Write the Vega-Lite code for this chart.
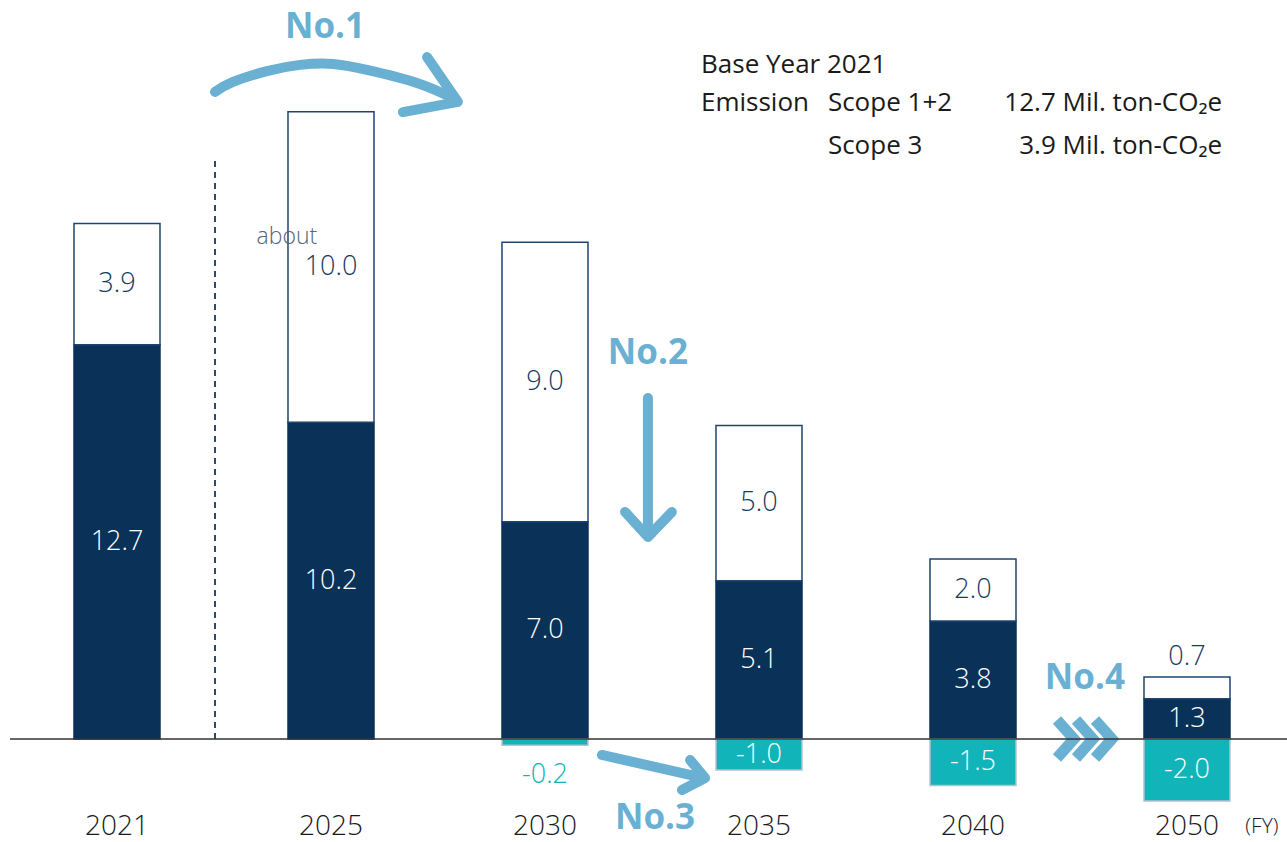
{
  "$schema": "https://vega.github.io/schema/vega-lite/v6.json",
  "width": 1287,
  "height": 842,
  "autosize": {"type": "none"},
  "padding": 0,
  "background": "white",
  "config": {
    "view": {"stroke": null},
    "axis": {"disable": true},
    "legend": {"disable": true},
    "scale": {"continuousPadding": 0},
    "text": {"font": "Open Sans"},
    "locale": {"number": {"decimal": ".", "thousands": ",", "grouping": [3], "currency": ["$", ""], "minus": "-"}}
  },
  "datasets": {
    "emissions": [
      {"year": "2021", "pos": 0, "cat": "Scope 1+2", "value": 12.7},
      {"year": "2021", "pos": 0, "cat": "Scope 3", "value": 3.9},
      {"year": "2025", "pos": 1, "cat": "Scope 1+2", "value": 10.2},
      {"year": "2025", "pos": 1, "cat": "Scope 3", "value": 10.0},
      {"year": "2030", "pos": 2, "cat": "Scope 1+2", "value": 7.0},
      {"year": "2030", "pos": 2, "cat": "Scope 3", "value": 9.0},
      {"year": "2030", "pos": 2, "cat": "Removal", "value": -0.2},
      {"year": "2035", "pos": 3, "cat": "Scope 1+2", "value": 5.1},
      {"year": "2035", "pos": 3, "cat": "Scope 3", "value": 5.0},
      {"year": "2035", "pos": 3, "cat": "Removal", "value": -1.0},
      {"year": "2040", "pos": 4, "cat": "Scope 1+2", "value": 3.8},
      {"year": "2040", "pos": 4, "cat": "Scope 3", "value": 2.0},
      {"year": "2040", "pos": 4, "cat": "Removal", "value": -1.5},
      {"year": "2050", "pos": 5, "cat": "Scope 1+2", "value": 1.3},
      {"year": "2050", "pos": 5, "cat": "Scope 3", "value": 0.7},
      {"year": "2050", "pos": 5, "cat": "Removal", "value": -2.0}
    ],
    "arc": [
      {"id": "a1", "i": 0, "x": 0.458, "y": 20.84},
      {"id": "a1", "i": 1, "x": 0.542, "y": 21.16},
      {"id": "a1", "i": 2, "x": 0.701, "y": 21.51},
      {"id": "a1", "i": 3, "x": 0.855, "y": 21.71},
      {"id": "a1", "i": 4, "x": 1.009, "y": 21.74},
      {"id": "a1", "i": 5, "x": 1.168, "y": 21.55},
      {"id": "a1", "i": 6, "x": 1.402, "y": 21.13},
      {"id": "a1", "i": 7, "x": 1.579, "y": 20.61}
    ],
    "strokes": [
      {"id": "h1", "i": 0, "x": 1.449, "y": 21.96},
      {"id": "h1", "i": 1, "x": 1.593, "y": 20.52},
      {"id": "h1", "i": 2, "x": 1.336, "y": 20.19},
      {"id": "s2", "i": 0, "x": 2.481, "y": 10.98},
      {"id": "s2", "i": 1, "x": 2.481, "y": 6.667},
      {"id": "h2", "i": 0, "x": 2.374, "y": 7.311},
      {"id": "h2", "i": 1, "x": 2.481, "y": 6.506},
      {"id": "h2", "i": 2, "x": 2.593, "y": 7.311},
      {"id": "s3", "i": 0, "x": 2.266, "y": -0.515},
      {"id": "s3", "i": 1, "x": 2.724, "y": -1.224},
      {"id": "h3", "i": 0, "x": 2.678, "y": -0.676},
      {"id": "h3", "i": 1, "x": 2.748, "y": -1.256},
      {"id": "h3", "i": 2, "x": 2.640, "y": -1.643}
    ],
    "chevrons": [
      {"id": "c1", "i": 0, "x": 4.3925, "y": 0.612},
      {"id": "c1", "i": 1, "x": 4.472, "y": 0},
      {"id": "c1", "i": 2, "x": 4.3925, "y": -0.612},
      {"id": "c2", "i": 0, "x": 4.4813, "y": 0.612},
      {"id": "c2", "i": 1, "x": 4.5607, "y": 0},
      {"id": "c2", "i": 2, "x": 4.4813, "y": -0.612},
      {"id": "c3", "i": 0, "x": 4.5701, "y": 0.612},
      {"id": "c3", "i": 1, "x": 4.6495, "y": 0},
      {"id": "c3", "i": 2, "x": 4.5701, "y": -0.612}
    ]
  },
  "layer": [
    {
      "data": {"values": [{"x": 0.458, "y": 0, "y2": 18.65}]},
      "mark": {"type": "rule", "color": "#2b4c72", "strokeWidth": 2, "strokeDash": [6, 5]},
      "encoding": {
        "x": {"field": "x", "type": "quantitative", "scale": {"domain": [-0.5467, 5.4673], "nice": false, "zero": false, "padding": 0}},
        "y": {"field": "y", "type": "quantitative", "scale": {"domain": [-3.317, 23.8], "nice": false, "zero": false, "padding": 0}},
        "y2": {"field": "y2"}
      }
    },
    {
      "data": {"name": "emissions"},
      "transform": [
        {"stack": "value", "groupby": ["year"], "sort": [{"field": "cat", "order": "ascending"}], "as": ["v0", "v1"]}
      ],
      "mark": {"type": "bar", "width": 86, "strokeWidth": 1.5},
      "encoding": {
        "x": {"field": "pos", "type": "quantitative", "scale": {"domain": [-0.5467, 5.4673], "nice": false, "zero": false, "padding": 0}},
        "y": {"field": "v0", "type": "quantitative", "scale": {"domain": [-3.317, 23.8], "nice": false, "zero": false, "padding": 0}},
        "y2": {"field": "v1"},
        "fill": {"field": "cat", "type": "nominal", "scale": {"domain": ["Scope 1+2", "Scope 3", "Removal"], "range": ["#0a3158", "#ffffff", "#11b4b9"]}},
        "stroke": {"field": "cat", "type": "nominal", "scale": {"domain": ["Scope 1+2", "Scope 3", "Removal"], "range": ["#0a3158", "#1f446e", "#b6c0d2"]}}
      }
    },
    {
      "data": {"name": "emissions"},
      "transform": [
        {"stack": "value", "groupby": ["year"], "sort": [{"field": "cat", "order": "ascending"}], "as": ["v0", "v1"]},
        {"calculate": "(datum.v0 + datum.v1) / 2", "as": "mid"},
        {"filter": "abs(datum.value) >= 1"}
      ],
      "mark": {"type": "text", "fontSize": 27, "fontWeight": 300, "baseline": "middle", "align": "center"},
      "encoding": {
        "x": {"field": "pos", "type": "quantitative", "scale": {"domain": [-0.5467, 5.4673], "nice": false, "zero": false, "padding": 0}},
        "y": {"field": "mid", "type": "quantitative", "scale": {"domain": [-3.317, 23.8], "nice": false, "zero": false, "padding": 0}},
        "text": {"field": "value", "type": "quantitative", "format": ".1f"},
        "color": {"field": "cat", "type": "nominal", "scale": {"domain": ["Scope 1+2", "Scope 3", "Removal"], "range": ["#ffffff", "#163a62", "#ffffff"]}}
      }
    },
    {
      "data": {"name": "emissions"},
      "transform": [
        {"stack": "value", "groupby": ["year"], "sort": [{"field": "cat", "order": "ascending"}], "as": ["v0", "v1"]},
        {"filter": "datum.value > 0 && datum.value < 1"}
      ],
      "mark": {"type": "text", "fontSize": 27, "fontWeight": 300, "baseline": "middle", "align": "center", "dy": -20, "color": "#163a62"},
      "encoding": {
        "x": {"field": "pos", "type": "quantitative", "scale": {"domain": [-0.5467, 5.4673], "nice": false, "zero": false, "padding": 0}},
        "y": {"field": "v1", "type": "quantitative", "scale": {"domain": [-3.317, 23.8], "nice": false, "zero": false, "padding": 0}},
        "text": {"field": "value", "type": "quantitative", "format": ".1f"}
      }
    },
    {
      "data": {"name": "emissions"},
      "transform": [
        {"stack": "value", "groupby": ["year"], "sort": [{"field": "cat", "order": "ascending"}], "as": ["v0", "v1"]},
        {"filter": "datum.value < 0 && datum.value > -1"}
      ],
      "mark": {"type": "text", "fontSize": 27, "fontWeight": 300, "baseline": "middle", "align": "center", "dy": 30, "color": "#13b3b8"},
      "encoding": {
        "x": {"field": "pos", "type": "quantitative", "scale": {"domain": [-0.5467, 5.4673], "nice": false, "zero": false, "padding": 0}},
        "y": {"field": "v1", "type": "quantitative", "scale": {"domain": [-3.317, 23.8], "nice": false, "zero": false, "padding": 0}},
        "text": {"field": "value", "type": "quantitative", "format": ".1f"}
      }
    },
    {
      "data": {"name": "emissions"},
      "transform": [{"filter": "datum.cat == 'Scope 1+2'"}],
      "mark": {"type": "text", "fontSize": 28, "fontWeight": 300, "baseline": "middle", "align": "center", "color": "#1a1a1a"},
      "encoding": {
        "x": {"field": "pos", "type": "quantitative", "scale": {"domain": [-0.5467, 5.4673], "nice": false, "zero": false, "padding": 0}},
        "y": {"datum": -2.84, "type": "quantitative", "scale": {"domain": [-3.317, 23.8], "nice": false, "zero": false, "padding": 0}},
        "text": {"field": "year", "type": "nominal"}
      }
    },
    {
      "data": {"name": "arc"},
      "mark": {"type": "line", "color": "#6ab0d3", "strokeWidth": 10, "strokeCap": "round", "interpolate": "natural"},
      "encoding": {
        "x": {"field": "x", "type": "quantitative", "scale": {"domain": [-0.5467, 5.4673], "nice": false, "zero": false, "padding": 0}},
        "y": {"field": "y", "type": "quantitative", "scale": {"domain": [-3.317, 23.8], "nice": false, "zero": false, "padding": 0}},
        "order": {"field": "i", "type": "quantitative"},
        "detail": {"field": "id", "type": "nominal"}
      }
    },
    {
      "data": {"name": "strokes"},
      "mark": {"type": "line", "color": "#6ab0d3", "strokeWidth": 10, "strokeCap": "round", "strokeJoin": "round"},
      "encoding": {
        "x": {"field": "x", "type": "quantitative", "scale": {"domain": [-0.5467, 5.4673], "nice": false, "zero": false, "padding": 0}},
        "y": {"field": "y", "type": "quantitative", "scale": {"domain": [-3.317, 23.8], "nice": false, "zero": false, "padding": 0}},
        "order": {"field": "i", "type": "quantitative"},
        "detail": {"field": "id", "type": "nominal"}
      }
    },
    {
      "data": {"name": "chevrons"},
      "mark": {"type": "line", "color": "#6ab0d3", "strokeWidth": 11, "strokeCap": "butt", "strokeJoin": "miter"},
      "encoding": {
        "x": {"field": "x", "type": "quantitative", "scale": {"domain": [-0.5467, 5.4673], "nice": false, "zero": false, "padding": 0}},
        "y": {"field": "y", "type": "quantitative", "scale": {"domain": [-3.317, 23.8], "nice": false, "zero": false, "padding": 0}},
        "order": {"field": "i", "type": "quantitative"},
        "detail": {"field": "id", "type": "nominal"}
      }
    },
    {
      "data": {"values": [{"x": -0.5, "x2": 5.4673, "y": 0}]},
      "mark": {"type": "rule", "color": "#333333", "strokeWidth": 1.5},
      "encoding": {
        "x": {"field": "x", "type": "quantitative", "scale": {"domain": [-0.5467, 5.4673], "nice": false, "zero": false, "padding": 0}},
        "x2": {"field": "x2"},
        "y": {"field": "y", "type": "quantitative", "scale": {"domain": [-3.317, 23.8], "nice": false, "zero": false, "padding": 0}}
      }
    },
    {
      "data": {"values": [
        {"x": 0.972, "y": 22.93, "t": "No.1"},
        {"x": 2.481, "y": 12.43, "t": "No.2"},
        {"x": 2.514, "y": -2.544, "t": "No.3"},
        {"x": 4.523, "y": 1.965, "t": "No.4"}
      ]},
      "mark": {"type": "text", "fontSize": 35, "fontWeight": "bold", "color": "#6ab0d3", "align": "center", "baseline": "middle"},
      "encoding": {
        "x": {"field": "x", "type": "quantitative", "scale": {"domain": [-0.5467, 5.4673], "nice": false, "zero": false, "padding": 0}},
        "y": {"field": "y", "type": "quantitative", "scale": {"domain": [-3.317, 23.8], "nice": false, "zero": false, "padding": 0}},
        "text": {"field": "t", "type": "nominal"}
      }
    },
    {
      "data": {"values": [{"x": 0.652, "y": 16.17, "t": "about"}]},
      "mark": {"type": "text", "fontSize": 23, "fontWeight": 300, "color": "#55647a", "align": "left", "baseline": "middle"},
      "encoding": {
        "x": {"field": "x", "type": "quantitative", "scale": {"domain": [-0.5467, 5.4673], "nice": false, "zero": false, "padding": 0}},
        "y": {"field": "y", "type": "quantitative", "scale": {"domain": [-3.317, 23.8], "nice": false, "zero": false, "padding": 0}},
        "text": {"field": "t", "type": "nominal"}
      }
    },
    {
      "data": {"values": [{"x": 5.35, "y": -2.84, "t": "(FY)"}]},
      "mark": {"type": "text", "fontSize": 21, "fontWeight": 300, "color": "#1a1a1a", "align": "center", "baseline": "middle"},
      "encoding": {
        "x": {"field": "x", "type": "quantitative", "scale": {"domain": [-0.5467, 5.4673], "nice": false, "zero": false, "padding": 0}},
        "y": {"field": "y", "type": "quantitative", "scale": {"domain": [-3.317, 23.8], "nice": false, "zero": false, "padding": 0}},
        "text": {"field": "t", "type": "nominal"}
      }
    },
    {
      "data": {"values": [
        {"x": 2.729, "y": 21.71, "t": "Base Year 2021"},
        {"x": 2.729, "y": 20.48, "t": "Emission"},
        {"x": 3.322, "y": 20.48, "t": "Scope 1+2"},
        {"x": 3.322, "y": 19.10, "t": "Scope 3"}
      ]},
      "mark": {"type": "text", "fontSize": 26, "fontWeight": 400, "color": "#1a1a1a", "align": "left", "baseline": "middle"},
      "encoding": {
        "x": {"field": "x", "type": "quantitative", "scale": {"domain": [-0.5467, 5.4673], "nice": false, "zero": false, "padding": 0}},
        "y": {"field": "y", "type": "quantitative", "scale": {"domain": [-3.317, 23.8], "nice": false, "zero": false, "padding": 0}},
        "text": {"field": "t", "type": "nominal"}
      }
    },
    {
      "data": {"values": [
        {"x": 5.164, "y": 20.48, "t": "12.7 Mil. ton-CO₂e"},
        {"x": 5.164, "y": 19.10, "t": "3.9 Mil. ton-CO₂e"}
      ]},
      "mark": {"type": "text", "fontSize": 26, "fontWeight": 400, "color": "#1a1a1a", "align": "right", "baseline": "middle"},
      "encoding": {
        "x": {"field": "x", "type": "quantitative", "scale": {"domain": [-0.5467, 5.4673], "nice": false, "zero": false, "padding": 0}},
        "y": {"field": "y", "type": "quantitative", "scale": {"domain": [-3.317, 23.8], "nice": false, "zero": false, "padding": 0}},
        "text": {"field": "t", "type": "nominal"}
      }
    }
  ]
}
